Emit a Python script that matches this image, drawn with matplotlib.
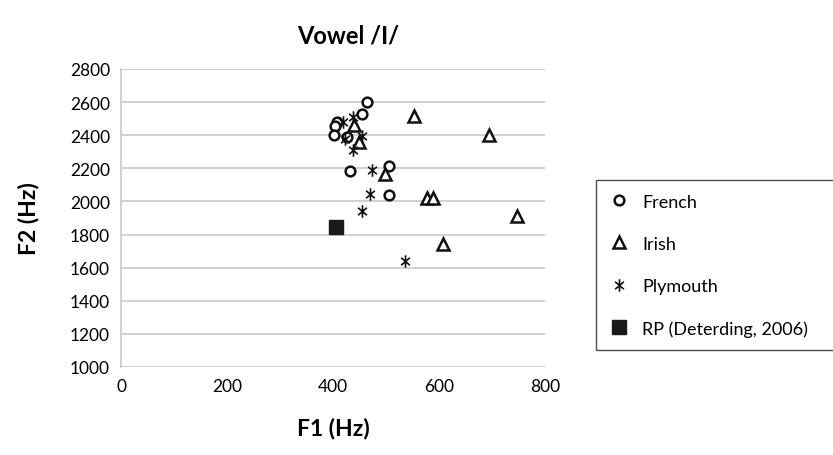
import matplotlib
matplotlib.use("Agg")
import matplotlib.pyplot as plt
from matplotlib.path import Path

plt.rcParams['font.family'] = ['Lato', 'DejaVu Sans']

french_f1 = [465, 454, 407, 404, 401, 426, 432, 506, 506]
french_f2 = [2600, 2529, 2480, 2455, 2402, 2392, 2181, 2213, 2040]

irish_f1 = [552, 694, 440, 449, 498, 577, 588, 747, 607]
irish_f2 = [2515, 2400, 2463, 2362, 2167, 2020, 2022, 1915, 1744]

plym_f1 = [437, 419, 454, 423, 438, 473, 470, 454, 536]
plym_f2 = [2509, 2480, 2398, 2378, 2308, 2187, 2045, 1945, 1643]

rp_f1 = [406]
rp_f2 = [1844]

x_ticks = [0, 200, 400, 600, 800]
y_ticks = [1000, 1200, 1400, 1600, 1800, 2000, 2200, 2400, 2600, 2800]

star = Path([(0, -1), (0, 1), (-0.7, -0.6), (0.7, 0.6), (-0.7, 0.6), (0.7, -0.6)],
            [Path.MOVETO, Path.LINETO, Path.MOVETO, Path.LINETO, Path.MOVETO, Path.LINETO])

fig = plt.figure(figsize=(8.33, 4.56), dpi=100)
ax = fig.add_axes([0.1453, 0.193, 0.5090, 0.6535])

ax.plot(french_f1, french_f2, linestyle='none', marker='o', markersize=7,
        markerfacecolor='white', markeredgecolor='#111111', markeredgewidth=1.8, label='French', zorder=3)
ax.plot(irish_f1, irish_f2, linestyle='none', marker='^', markersize=8,
        markerfacecolor='white', markeredgecolor='#111111', markeredgewidth=1.8, label='Irish', zorder=3)
ax.plot(plym_f1, plym_f2, linestyle='none', marker=star, markersize=9,
        markerfacecolor='none', markeredgecolor='#111111', markeredgewidth=1.2, label='Plymouth', zorder=3)
ax.plot(rp_f1, rp_f2, linestyle='none', marker='s', markersize=10,
        markerfacecolor='#1a1a1a', markeredgecolor='#1a1a1a', label='RP (Deterding, 2006)', zorder=3)

ax.set_xlim(0, 800)
ax.set_ylim(1000, 2800)
ax.set_xticks(x_ticks)
ax.set_yticks(y_ticks)
ax.tick_params(length=0, labelsize=12.5, pad=8)
ax.grid(axis='y', color='#c8c8c8', linewidth=1.2)
ax.set_axisbelow(True)
for s in ['top', 'right', 'bottom']:
    ax.spines[s].set_visible(False)
ax.spines['left'].set_color('#c8c8c8')
ax.spines['left'].set_linewidth(1.2)

fig.text(0.418, 0.922, 'Vowel /I/', fontsize=17, fontweight='bold', ha='center', va='center')
ax.set_xlabel('F1 (Hz)', fontsize=16.5, fontweight='bold', labelpad=16)
ax.set_ylabel('F2 (Hz)', fontsize=16.5, fontweight='bold', labelpad=22)

leg = fig.legend(loc='upper left', bbox_to_anchor=(0.7155, 0.603, 0.3, 0.0), mode='expand',
                 frameon=True, fontsize=13, labelspacing=1.45, handlelength=1.0, handletextpad=0.8,
                 borderpad=0.75, borderaxespad=0.0, fancybox=False)
leg.get_frame().set_edgecolor('#222222')
leg.get_frame().set_linewidth(1.0)

fig.savefig('out.png', dpi=100)
